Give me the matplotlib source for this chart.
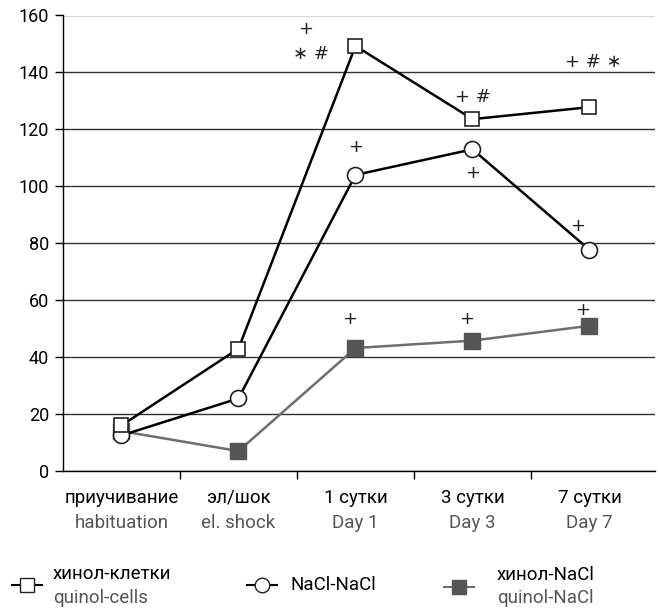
import matplotlib.pyplot as plt
from matplotlib.lines import Line2D
from matplotlib.transforms import blended_transform_factory

plt.rcParams['font.family'] = ['Roboto', 'DejaVu Sans']

# === data ===
labels_ru = ['приучивание', 'эл/шок', '1 сутки', '3 сутки', '7 сутки']
labels_en = ['habituation', 'el. shock', 'Day 1', 'Day 3', 'Day 7']
quinol_cells = [16, 43, 149.3, 123.6, 127.8]
nacl_nacl = [12.5, 25.5, 104, 113, 77.7]
quinol_nacl = [14, 7, 43.2, 45.8, 51]

# significance marks: (x index, y value, text)
marks = [
    (1.57, 155.3, '+'), (1.62, 146.5, '∗ #'),
    (2.0, 113.7, '+'),
    (3.0, 131.5, '+ #'), (3.0, 104.6, '+'),
    (4.03, 143.8, '+ # ∗'), (3.9, 86, '+'),
    (1.95, 53.5, '+'), (2.95, 53.5, '+'), (3.94, 56.7, '+'),
]

fig = plt.figure(figsize=(6.58, 6.11), dpi=100)
ax = fig.add_axes([63 / 658, 1 - 471 / 611, (655 - 63) / 658, (471 - 15.5) / 611])

x = range(len(labels_ru))
ax.plot(x, quinol_nacl, color='#6e6e6e', lw=1.8, marker='s', ms=11,
        mfc='#555555', mec='#555555', zorder=3)
ax.plot(x, nacl_nacl, color='black', lw=1.8, marker='o', ms=11.5,
        mfc='white', mec='#222222', mew=1.2, zorder=4)
ax.plot(x, quinol_cells, color='black', lw=1.8, marker='s', ms=10.5,
        mfc='white', mec='#222222', mew=1.2, zorder=4)

for xi, yi, t in marks:
    ax.text(xi, yi, t, ha='center', va='center', fontsize=13, color='#222222',
            family=['DejaVu Sans'])

# category centres at 122 px with 117 px spacing
ax.set_xlim(-0.5, 4.56)
ax.set_ylim(0, 160)
ax.set_yticks(range(0, 161, 20))
ax.yaxis.grid(True, color='#333333', lw=1)
ax.set_axisbelow(True)
ax.tick_params(axis='y', labelsize=13, length=6, width=1, pad=4)
for s in ['top', 'right']:
    ax.spines[s].set_visible(False)
ax.spines['left'].set_linewidth(1)
ax.spines['bottom'].set_linewidth(1)

ax.set_xticks([0.5, 1.5, 2.5, 3.5])
ax.set_xticklabels([])
ax.tick_params(axis='x', length=6, width=1, direction='out')

tr = blended_transform_factory(ax.transData, ax.transAxes)
for i in x:
    ax.text(i, -0.059, labels_ru[i], transform=tr, ha='center', va='center',
            fontsize=13.5, color='black')
    ax.text(i, -0.114, labels_en[i], transform=tr, ha='center', va='center',
            fontsize=13.5, color='#555555')

# === legend ===
def fx(px):
    return px / 658

def fy(py):
    return 1 - py / 611

def legend_handle(xc, y, line_color, **kw):
    fig.add_artist(Line2D([fx(xc - 15), fx(xc + 15)], [fy(y), fy(y)],
                          transform=fig.transFigure, color=line_color, lw=1.5))
    fig.add_artist(Line2D([fx(xc)], [fy(y)], transform=fig.transFigure,
                          ls='none', **kw))

legend_handle(27, 585, 'black', marker='s', ms=9.5, mfc='white', mec='#222222')
fig.text(fx(53), fy(574), 'хинол-клетки', fontsize=13.5, va='center', color='black')
fig.text(fx(53), fy(598), 'quinol-cells', fontsize=13.5, va='center', color='#555555')

legend_handle(262, 585, 'black', marker='o', ms=10.5, mfc='white', mec='#222222')
fig.text(fx(290), fy(585), 'NaCl-NaCl', fontsize=13.5, va='center', color='black')

legend_handle(459, 587, '#6e6e6e', marker='s', ms=10, mfc='#555555', mec='#555555')
fig.text(fx(497), fy(575), 'хинол-NaCl', fontsize=13.5, va='center', color='black')
fig.text(fx(497), fy(598), 'quinol-NaCl', fontsize=13.5, va='center', color='#555555')

fig.savefig('out.png', dpi=100)
